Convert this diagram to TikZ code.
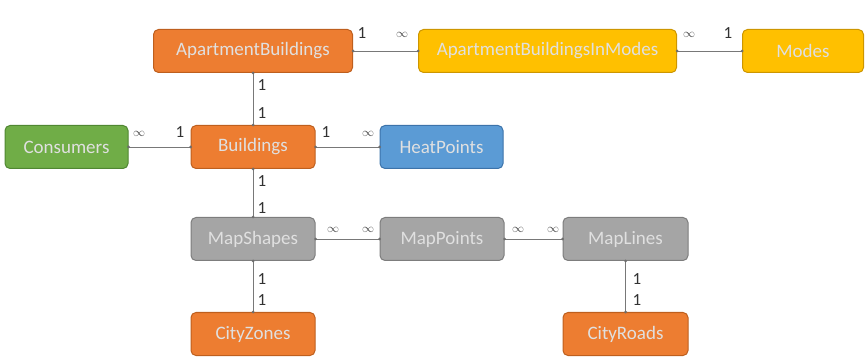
\documentclass[tikz,border=0pt]{standalone}
\usepackage{fontspec}
\setmainfont{Carlito}
\begin{document}
\begin{tikzpicture}[x=1pt,y=-1pt,
  ent/.style={rounded corners=5pt, line width=1pt, minimum height=43pt, inner sep=0pt, font=\fontsize{19}{21}\selectfont, text=white!88!black},
  orng/.style={ent, fill={rgb,255:red,237;green,125;blue,49}, draw={rgb,255:red,190;green,95;blue,30}},
  yel/.style={ent, fill={rgb,255:red,255;green,192;blue,0}, draw={rgb,255:red,205;green,150;blue,0}},
  grn/.style={ent, fill={rgb,255:red,112;green,173;blue,71}, draw={rgb,255:red,80;green,135;blue,50}},
  blu/.style={ent, fill={rgb,255:red,91;green,155;blue,213}, draw={rgb,255:red,60;green,115;blue,170}},
  gry/.style={ent, fill={rgb,255:red,165;green,165;blue,165}, draw={rgb,255:red,125;green,125;blue,125}},
  rel/.style={draw={rgb,255:red,120;green,120;blue,120}, line width=0.8pt},
  card/.style={font=\fontsize{17}{18}\selectfont, text={rgb,255:red,50;green,50;blue,50}, inner sep=0pt},
  inf/.style={font=\fontsize{12}{12}\selectfont, text={rgb,255:red,70;green,70;blue,70}, inner sep=0pt},
  dot/.style={circle, fill={rgb,255:red,110;green,110;blue,110}, inner sep=0pt, minimum size=3pt}
]
\useasboundingbox (0,0) rectangle (868,358);
\node[orng, minimum width=199pt] (ab) at (253,51) {ApartmentBuildings};
\node[yel, minimum width=258pt] (abim) at (547.5,51) {ApartmentBuildingsInModes};
\node[yel, minimum width=121pt] (modes) at (803,51) {Modes};
\node[grn, minimum width=123pt] (cons) at (66.5,147) {Consumers};
\node[orng, minimum width=124pt] (bld) at (253,147) {Buildings};
\node[blu, minimum width=123pt] (heat) at (441.5,147) {HeatPoints};
\node[gry, minimum width=124pt] (ms) at (253,239) {MapShapes};
\node[gry, minimum width=124pt] (mp) at (442,239) {MapPoints};
\node[gry, minimum width=125pt] (ml) at (625.5,239) {MapLines};
\node[orng, minimum width=124pt] (cz) at (253,334) {CityZones};
\node[orng, minimum width=125pt] (cr) at (625.5,334) {CityRoads};
% connectors
\foreach \a/\b in {ab/abim, abim/modes, cons/bld, bld/heat, ms/mp, mp/ml}{
  \draw[rel] (\a.east) -- (\b.west);
  \node[dot] at (\a.east) {};
  \node[dot] at (\b.west) {};
}
\foreach \a/\b in {ab/bld, bld/ms, ms/cz, ml/cr}{
  \draw[rel] (\a.south) -- (\b.north);
  \node[dot] at (\a.south) {};
  \node[dot] at (\b.north) {};
}
% cardinalities
\node[card] (c1) at (362,33) {1};
\node[inf] (c2) at (402,35) {$\infty$};
\node[inf] (c3) at (689,35) {$\infty$};
\node[card] (c4) at (728,33) {1};
\node[card] (c5) at (262,85) {1};
\node[card] (c6) at (262,113) {1};
\node[inf] (c7) at (139,134) {$\infty$};
\node[card] (c8) at (180,132) {1};
\node[card] (c9) at (326,132) {1};
\node[inf] (c10) at (368,134) {$\infty$};
\node[card] (c11) at (262,181) {1};
\node[card] (c12) at (262,208) {1};
\node[inf] (c13) at (333,230) {$\infty$};
\node[inf] (c14) at (368,230) {$\infty$};
\node[inf] (c15) at (518,230) {$\infty$};
\node[inf] (c16) at (553,230) {$\infty$};
\node[card] (c17) at (262,279) {1};
\node[card] (c18) at (262,300) {1};
\node[card] (c19) at (637,279) {1};
\node[card] (c20) at (637,300) {1};
\end{tikzpicture}
\end{document}
